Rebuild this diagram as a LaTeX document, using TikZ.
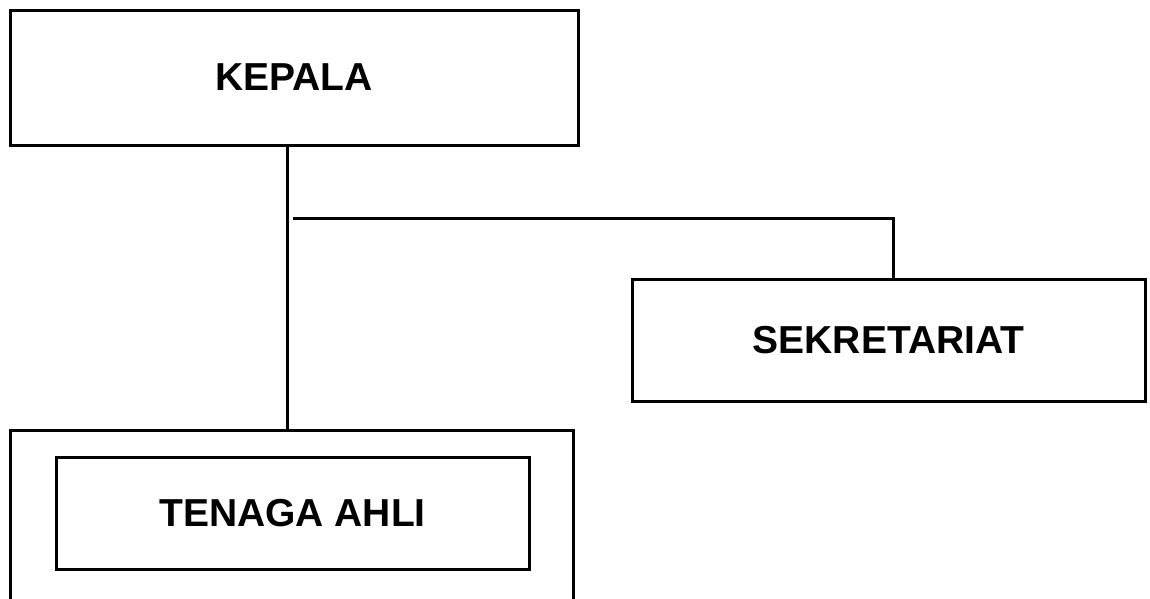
\documentclass[tikz,border=0pt]{standalone}
\usepackage{fontspec}
\setmainfont{Liberation Sans}
\usetikzlibrary{calc}

\tikzset{
	unitbox/.style={draw=black, line width=3pt, inner sep=0pt, font=\bfseries\fontsize{39}{47}\selectfont},
	link/.style={black, line width=3pt}
}

\begin{document}
\begin{tikzpicture}[x=1pt, y=-1pt]
		\useasboundingbox (0,0) rectangle (1150,598);
		\clip (0,0) rectangle (1150,598);
		\node[unitbox, minimum width=568pt, minimum height=135pt] (kepala) at (294,77.5) {KEPALA};
		\node[unitbox, minimum width=513pt, minimum height=122pt] (sekretariat) at (888.5,340) {SEKRETARIAT};
		\node[unitbox, minimum width=563pt, minimum height=190pt] (unit) at (291.5,525.5) {};
		\node[unitbox, minimum width=473pt, minimum height=112pt] (ahli) at (292.5,513) {TENAGA AHLI};
		\coordinate (stem) at (287,0);
		\coordinate (gap) at (293,218);
		\coordinate (bend) at (893,218);
		\draw[link] (kepala.south -| stem) -- (unit.north -| stem);
		\draw[link] (gap) -- (bend) -- (bend |- sekretariat.north);
		\end{tikzpicture}
\end{document}
